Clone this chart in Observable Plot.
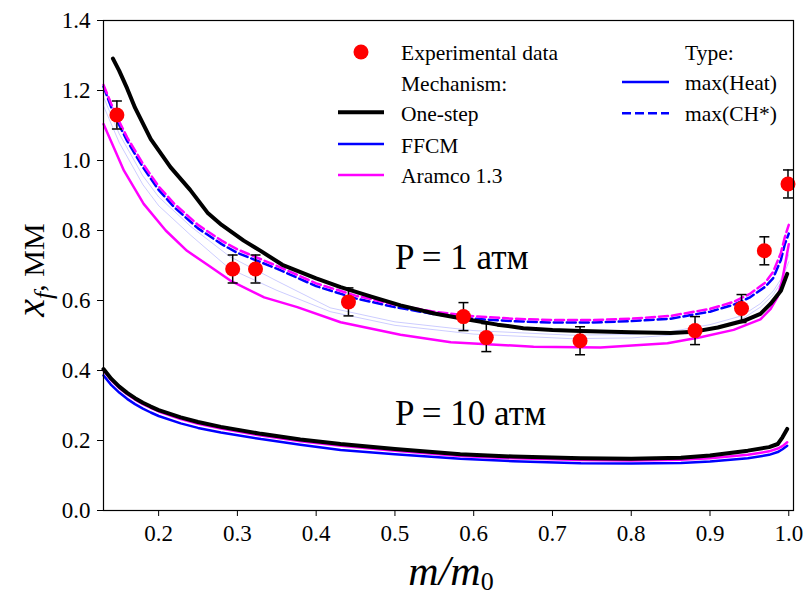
<!DOCTYPE html>
<html><head><meta charset="utf-8">
<script src="https://cdn.jsdelivr.net/npm/d3@7"></script>
<script src="https://cdn.jsdelivr.net/npm/@observablehq/plot@0.6"></script>
<style>
body{margin:0;background:#fff;}
#chart{position:relative;width:803px;height:595px;}
#chart svg text, #chart svg tspan { font-family: "Liberation Serif", "DejaVu Serif", serif; }
</style>
</head><body><div id="chart"></div>
<script>
// ---- ticks ----
const xTicks = [0.2, 0.3, 0.4, 0.5, 0.6, 0.7, 0.8, 0.9, 1.0];
const yTicks = [0.0, 0.2, 0.4, 0.6, 0.8, 1.0, 1.2, 1.4];

// ---- experimental data (P = 1 atm) ----
const expX = [0.147, 0.294, 0.323, 0.441, 0.587, 0.616, 0.735, 0.881, 0.940, 0.969, 0.999];
const expY = [1.13, 0.69, 0.69, 0.596, 0.554, 0.494, 0.485, 0.514, 0.577, 0.742, 0.933];
const expErr = [0.04, 0.04, 0.04, 0.04, 0.04, 0.04, 0.04, 0.04, 0.04, 0.04, 0.04];

// ---- P = 1 atm curves ----
const oneStep1X = [0.142,0.15,0.16,0.17,0.19,0.215,0.24,0.262,0.28,0.308,0.33,0.357,0.4,0.431,0.47,0.507,0.55,0.587,0.63,0.663,0.7,0.736,0.8,0.85,0.88,0.91,0.943,0.964,0.977,0.99,0.998];
const oneStep1Y = [1.291,1.256,1.206,1.151,1.061,0.981,0.916,0.851,0.816,0.771,0.741,0.702,0.663,0.638,0.611,0.586,0.563,0.548,0.531,0.521,0.516,0.513,0.509,0.507,0.511,0.523,0.542,0.562,0.591,0.628,0.676];

const aramcoHeat1X = [0.13,0.156,0.181,0.209,0.236,0.262,0.291,0.334,0.376,0.431,0.507,0.571,0.676,0.761,0.846,0.888,0.93,0.964,0.977,0.986,0.992,0.996,1.0];
const aramcoHeat1Y = [1.104,0.971,0.876,0.80,0.742,0.702,0.657,0.609,0.581,0.538,0.502,0.481,0.468,0.466,0.478,0.495,0.516,0.546,0.576,0.611,0.661,0.711,0.761];

const chX = [0.13,0.14,0.15,0.16,0.18,0.2,0.22,0.25,0.28,0.3,0.35,0.4,0.45,0.5,0.55,0.6,0.65,0.7,0.75,0.8,0.85,0.9,0.93,0.95,0.97,0.98,0.99,0.995,1.0];
const ffcmCH1Y   = [1.211,1.151,1.101,1.056,0.981,0.916,0.866,0.806,0.761,0.736,0.691,0.641,0.606,0.581,0.561,0.548,0.541,0.537,0.537,0.541,0.548,0.568,0.588,0.608,0.639,0.663,0.716,0.761,0.791];
const aramcoCH1Y = [1.216,1.161,1.111,1.066,0.991,0.926,0.876,0.816,0.771,0.746,0.699,0.649,0.614,0.588,0.568,0.555,0.548,0.544,0.544,0.548,0.556,0.576,0.596,0.618,0.651,0.681,0.736,0.781,0.816];

const faintX  = [0.13,0.15,0.18,0.2,0.241,0.29,0.35,0.418,0.5,0.6,0.723,0.8,0.85,0.9,0.94,0.964,0.98,0.99,1.0];
const ffcmHeat1Y  = [1.181,1.076,0.956,0.896,0.811,0.726,0.656,0.579,0.539,0.514,0.501,0.503,0.511,0.531,0.556,0.591,0.626,0.661,0.731];
const ffcmHeat1bY = [1.156,1.051,0.931,0.871,0.786,0.691,0.629,0.568,0.529,0.504,0.491,0.493,0.501,0.521,0.546,0.581,0.616,0.651,0.711];

// ---- P = 10 atm curves ----
const p10X = [0.13,0.14,0.15,0.16,0.17,0.18,0.19,0.2,0.228,0.25,0.279,0.33,0.38,0.431,0.5,0.583,0.65,0.736,0.8,0.863,0.9,0.948,0.975,0.986,0.992,0.998];
const oneStep10Y = [0.404,0.376,0.354,0.336,0.321,0.308,0.297,0.287,0.266,0.253,0.239,0.219,0.203,0.19,0.176,0.161,0.154,0.149,0.148,0.151,0.157,0.171,0.181,0.19,0.209,0.233];
const aramco10Y  = [0.400,0.372,0.350,0.332,0.317,0.304,0.293,0.283,0.261,0.248,0.234,0.214,0.198,0.185,0.171,0.156,0.149,0.144,0.143,0.145,0.149,0.159,0.169,0.177,0.184,0.195];
const ffcm10Y    = [0.386,0.358,0.337,0.319,0.304,0.291,0.280,0.270,0.249,0.236,0.223,0.204,0.188,0.173,0.161,0.148,0.141,0.135,0.134,0.136,0.140,0.149,0.159,0.167,0.175,0.185];

// ---- labels ----
const annotations = [{x: 0.5, y: 0.691, label: "P = 1 атм"}, {x: 0.5, y: 0.243, label: "P = 10 атм"}];
const legendLeft = ["Experimental data", "Mechanism:", "One-step", "FFCM", "Aramco 1.3"];
const legendRight = ["Type:", "max(Heat)", "max(CH*)"];

const zip = (xs, ys) => xs.map((x, i) => ({x, y: ys[i]}));
const exp = expX.map((x, i) => ({x, y: expY[i], e: expErr[i]}));

const serif = "Liberation Serif, DejaVu Serif, serif";
const BLUE = "#0000ff", MAG = "#ff00ff", RED = "#ff0000";
const dash = "9,4";
const capSymbol = {draw(ctx, size) { const r = Math.sqrt(size / Math.PI); ctx.moveTo(-r, 0); ctx.lineTo(r, 0); }};

const plot = Plot.plot({
  width: 803, height: 595,
  marginLeft: 103, marginRight: 10, marginTop: 20, marginBottom: 85,
  style: {fontFamily: serif, fontSize: "23px", background: "#fff", color: "#000"},
  x: {domain: [0.13, 1.006]},
  y: {domain: [0, 1.4]},
  marks: [
    Plot.line(zip(faintX, ffcmHeat1Y), {x: "x", y: "y", stroke: BLUE, strokeOpacity: 0.25, strokeWidth: 0.8}),
    Plot.line(zip(faintX, ffcmHeat1bY), {x: "x", y: "y", stroke: BLUE, strokeOpacity: 0.25, strokeWidth: 0.8}),
    Plot.line(zip(aramcoHeat1X, aramcoHeat1Y), {x: "x", y: "y", stroke: MAG, strokeWidth: 2.5}),
    Plot.line(zip(chX, ffcmCH1Y), {x: "x", y: "y", stroke: BLUE, strokeWidth: 2.5, strokeDasharray: dash}),
    Plot.line(zip(chX, aramcoCH1Y), {x: "x", y: "y", stroke: MAG, strokeWidth: 2.5, strokeDasharray: dash}),
    Plot.line(zip(oneStep1X, oneStep1Y), {x: "x", y: "y", stroke: "#000", strokeWidth: 4}),
    Plot.line(zip(p10X, ffcm10Y), {x: "x", y: "y", stroke: BLUE, strokeWidth: 2.5}),
    Plot.line(zip(p10X, aramco10Y), {x: "x", y: "y", stroke: MAG, strokeWidth: 2.5}),
    Plot.line(zip(p10X, oneStep10Y), {x: "x", y: "y", stroke: "#000", strokeWidth: 4}),
    Plot.ruleX(exp, {x: "x", y1: d => d.y - d.e, y2: d => d.y + d.e, stroke: "#000", strokeWidth: 1.5}),
    Plot.dot(exp, {x: "x", y: d => d.y - d.e, symbol: capSymbol, r: 5, stroke: "#000", strokeWidth: 1.5}),
    Plot.dot(exp, {x: "x", y: d => d.y + d.e, symbol: capSymbol, r: 5, stroke: "#000", strokeWidth: 1.5}),
    Plot.dot(exp, {x: "x", y: "y", r: 7.5, fill: RED, stroke: "none"}),
    Plot.text(annotations, {x: "x", y: "y", text: "label", textAnchor: "start", lineAnchor: "bottom", fontSize: 35, fill: "#000"}),
    Plot.frame({stroke: "#000", strokeWidth: 1.2}),
    Plot.axisX({ticks: xTicks, tickFormat: d3.format(".1f"), tickSize: 6, tickPadding: 8, label: null, fontSize: 23}),
    Plot.axisY({ticks: yTicks, tickFormat: d3.format(".1f"), tickSize: 6, tickPadding: 7, label: null, fontSize: 23})
  ]
});
document.getElementById("chart").appendChild(plot);

// ---- legend & axis titles (static layout) ----
const svg = d3.select(plot);
const g = svg.append("g").attr("font-family", serif).attr("font-size", 21.5).attr("fill", "#000").attr("text-anchor", "start");
g.append("circle").attr("cx", 361).attr("cy", 52).attr("r", 7.5).attr("fill", RED);
const leftLayout = [
  {y: 59.5},
  {y: 90.5},
  {y: 121, line: {c: "#000", w: 4, ly: 112.3}},
  {y: 152.5, line: {c: BLUE, w: 2.5, ly: 144}},
  {y: 183, line: {c: MAG, w: 2.5, ly: 175}}
];
leftLayout.forEach((r, i) => {
  g.append("text").attr("x", 401).attr("y", r.y).text(legendLeft[i]);
  if (r.line) g.append("line").attr("x1", 338).attr("x2", 384).attr("y1", r.line.ly).attr("y2", r.line.ly)
    .attr("stroke", r.line.c).attr("stroke-width", r.line.w);
});
const rightLayout = [
  {y: 59.5},
  {y: 90, line: {c: BLUE, w: 2.5, ly: 82, d: null}},
  {y: 121, line: {c: BLUE, w: 2.5, ly: 113.3, d: dash}}
];
rightLayout.forEach((r, i) => {
  g.append("text").attr("x", 685).attr("y", r.y).text(legendRight[i]);
  if (r.line) g.append("line").attr("x1", 622).attr("x2", 669).attr("y1", r.line.ly).attr("y2", r.line.ly)
    .attr("stroke", r.line.c).attr("stroke-width", r.line.w).attr("stroke-dasharray", r.line.d);
});
// y title
const yt = svg.append("text").attr("font-family", serif).attr("text-anchor", "middle")
  .attr("transform", "translate(44,270) rotate(-90)");
yt.append("tspan").attr("font-style", "italic").attr("font-size", 40).text("x");
yt.append("tspan").attr("font-style", "italic").attr("font-size", 26).attr("dy", 8).text("f");
yt.append("tspan").attr("font-size", 30).attr("dy", -8).text(", ММ");
// x title
const xt = svg.append("text").attr("font-family", serif).attr("text-anchor", "middle")
  .attr("transform", "translate(451,585)");
xt.append("tspan").attr("font-style", "italic").attr("font-size", 42).text("m/m");
xt.append("tspan").attr("font-size", 26).attr("dy", 5).text("0");
</script></body></html>
